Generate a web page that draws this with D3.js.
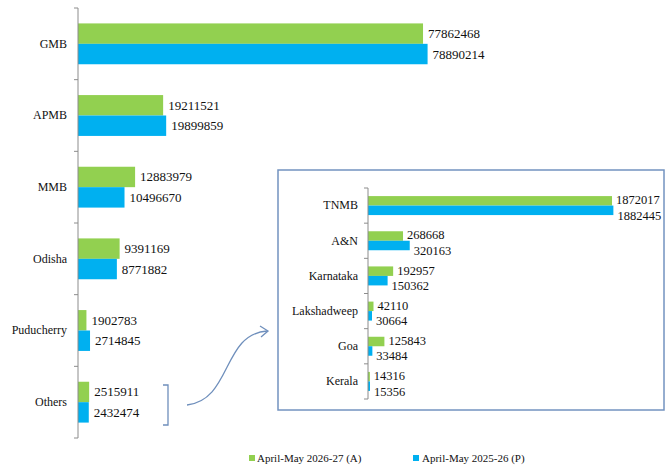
<!DOCTYPE html>
<html>
<head>
<meta charset="utf-8">
<script src="https://cdn.jsdelivr.net/npm/d3@7/dist/d3.min.js"></script>
<style>
  body { margin: 0; background: #fff; }
</style>
</head>
<body>
<div id="chart"></div>
<script>
var mainPorts = ['GMB', 'APMB', 'MMB', 'Odisha', 'Puducherry', 'Others'];
var mainActual = [77862468, 19211521, 12883979, 9391169, 1902783, 2515911];
var mainPrev = [78890214, 19899859, 10496670, 8771882, 2714845, 2432474];

var otherPorts = ['TNMB', 'A&N', 'Karnataka', 'Lakshadweep', 'Goa', 'Kerala'];
var otherActual = [1872017, 268668, 192957, 42110, 125843, 14316];
var otherPrev = [1882445, 320163, 150362, 30664, 33484, 15356];

var seriesNames = ['April-May 2026-27 (A)', 'April-May 2025-26 (P)'];
var seriesColors = ['#92D050', '#00B0F0'];

var FONT = "'Liberation Serif', 'Times New Roman', Times, 'DejaVu Serif', serif";

var width = 672, height = 466;
var svg = d3.select('#chart').append('svg')
    .attr('width', width)
    .attr('height', height)
    .style('font-family', FONT);

function drawPanel(opts) {
    var rows = opts.cats.map(function(c, i) {
        return { cat: c, vals: [opts.a[i], opts.p[i]] };
    });

    var x = d3.scaleLinear().domain([0, opts.max]).range([opts.x0, opts.x1]);
    var y = d3.scaleBand().domain(opts.cats).range([opts.y0, opts.y1])
        .paddingInner(opts.pad).paddingOuter(opts.pad / 2);
    var sub = d3.scaleBand().domain([0, 1]).range([0, y.bandwidth()]);

    var g = svg.append('g');

    var row = g.selectAll('g.row')
        .data(rows)
        .join('g')
        .attr('class', 'row')
        .attr('transform', function(d) { return 'translate(0,' + y(d.cat) + ')'; });

    row.selectAll('rect')
        .data(function(d) { return d.vals; })
        .join('rect')
        .attr('x', x(0))
        .attr('y', function(d, i) { return sub(i); })
        .attr('width', function(d) { return x(d) - x(0); })
        .attr('height', sub.bandwidth())
        .attr('fill', function(d, i) { return seriesColors[i]; });

    row.selectAll('text.val')
        .data(function(d) { return d.vals; })
        .join('text')
        .attr('class', 'val')
        .attr('x', function(d) { return x(d) + opts.gap; })
        .attr('y', function(d, i) { return sub(i) + sub.bandwidth() / 2 + opts.dy[i]; })
        .attr('dy', '0.35em')
        .style('font-family', FONT)
        .style('font-size', opts.valSize + 'px')
        .attr('fill', '#111')
        .text(function(d) { return d; });

    // axis with labels at band centres, ticks at band edges
    var axis = g.append('g')
        .attr('transform', 'translate(' + x(0) + ',0)')
        .call(d3.axisLeft(y).tickSize(0).tickPadding(opts.labelPad));
    axis.attr('font-family', null).attr('font-size', null);
    axis.select('.domain').remove();
    axis.selectAll('text')
        .style('font-family', FONT)
        .style('font-size', '12px')
        .attr('fill', '#111');

    var edges = d3.range(opts.cats.length + 1).map(function(i) {
        return opts.y0 + i * y.step();
    });
    g.append('line')
        .attr('x1', x(0)).attr('x2', x(0))
        .attr('y1', opts.y0).attr('y2', opts.y1)
        .attr('stroke', '#8c8c8c');
    g.selectAll('line.tick')
        .data(edges)
        .join('line')
        .attr('class', 'tick')
        .attr('x1', x(0) - 4).attr('x2', x(0))
        .attr('y1', function(d) { return d; })
        .attr('y2', function(d) { return d; })
        .attr('stroke', '#8c8c8c');
}

drawPanel({
    cats: mainPorts, a: mainActual, p: mainPrev,
    max: 80000000, x0: 78, x1: 432.5, y0: 8, y1: 438, pad: 0.43,
    gap: 5, dy: [0, 0], valSize: 13, labelPad: 11
});

// inset box
svg.append('rect')
    .attr('x', 278).attr('y', 170)
    .attr('width', 386).attr('height', 240)
    .attr('fill', 'none')
    .attr('stroke', '#7393c0')
    .attr('stroke-width', 1.5);

drawPanel({
    cats: otherPorts, a: otherActual, p: otherPrev,
    max: 2000000, x0: 368, x1: 628.7, y0: 188, y1: 399, pad: 0.46,
    gap: 4, dy: [-1, 5], valSize: 12.5, labelPad: 10
});

// bracket round "Others" and arrow to the inset
svg.append('path')
    .attr('d', 'M163,385 H168 V425 H163')
    .attr('fill', 'none')
    .attr('stroke', '#6f8fbc')
    .attr('stroke-width', 1.3);

svg.append('path')
    .attr('d', 'M187,405 C232,400 222,334 267,331')
    .attr('fill', 'none')
    .attr('stroke', '#6f8fbc')
    .attr('stroke-width', 1.3);
svg.append('path')
    .attr('d', 'M260,326 L268,331 L261,337')
    .attr('fill', 'none')
    .attr('stroke', '#6f8fbc')
    .attr('stroke-width', 1.3);

// legend
var legendX = [249, 413];
var legend = svg.append('g').selectAll('g')
    .data(seriesNames)
    .join('g')
    .attr('transform', function(d, i) { return 'translate(' + legendX[i] + ',458)'; });
legend.append('rect')
    .attr('x', 0).attr('y', -3)
    .attr('width', 6).attr('height', 6)
    .attr('fill', function(d, i) { return seriesColors[i]; });
legend.append('text')
    .attr('x', function(d, i) { return i === 0 ? 8 : 9; })
    .attr('dy', '0.35em')
    .style('font-family', FONT)
    .style('font-size', '11px')
    .attr('fill', '#111')
    .text(function(d) { return d; });
</script>
</body>
</html>
